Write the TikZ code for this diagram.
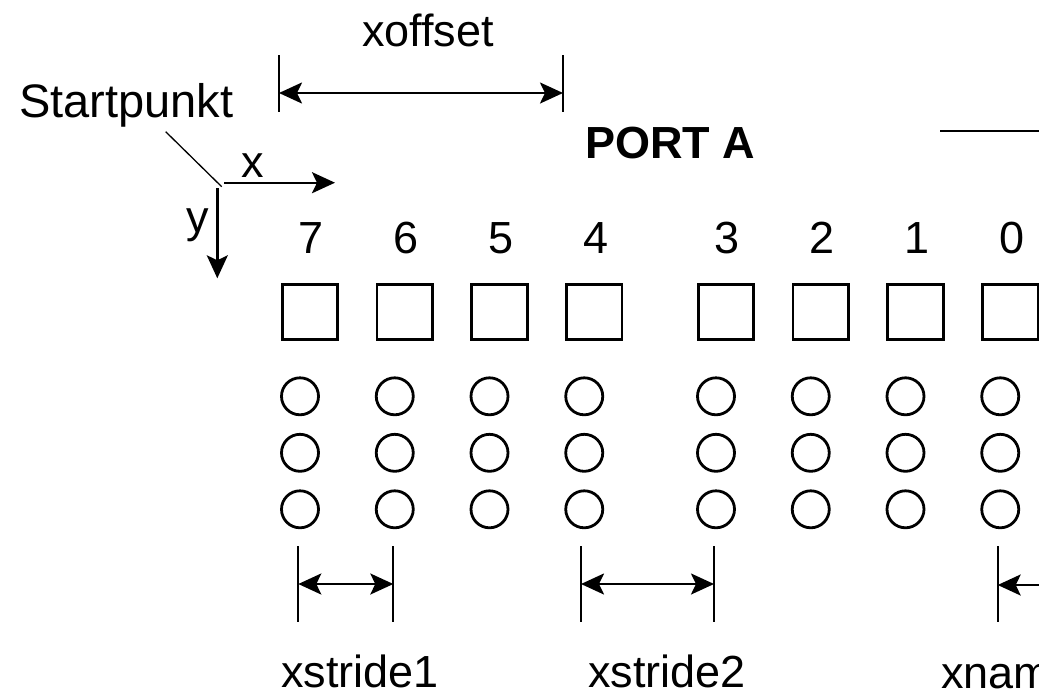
\documentclass[tikz,border=0pt]{standalone}
\usepackage{fontspec}
\setmainfont{Liberation Sans}
\usetikzlibrary{arrows.meta}
\begin{document}
\begin{tikzpicture}[x=1pt,y=-1pt,
  lbl/.style={inner sep=0pt, anchor=base, text depth=0pt, font=\fontsize{45}{54}\selectfont},
  sqbox/.style={draw, line width=2.6pt, minimum size=55.5pt, inner sep=0pt},
  pin/.style={draw, circle, line width=2.8pt, minimum size=37pt, inner sep=0pt},
  tickline/.style={line width=2.3pt},
  thinline/.style={line width=1.3pt},
  arr/.style={line width=2.4pt, -{Stealth[length=23pt,width=21pt,inset=5pt]}},
  darr/.style={line width=2.4pt, {Stealth[length=23pt,width=21pt,inset=5pt]}-{Stealth[length=23pt,width=21pt,inset=5pt]}}
]
\useasboundingbox (0,0) rectangle (1039,694);
\clip (0,0) rectangle (1039,694);

% squares, digits, pins
\foreach \i/\x in {7/310,6/404.75,5/499.5,4/594.25,3/726,2/820.75,1/915.5,0/1010.25}{
  \node[sqbox] (sq\i) at (\x,312) {};
  \node[lbl] (n\i) at (\x+1.5,253) {\i};
  \node[pin] (c\i a) at (\x-10,396.3) {};
  \node[pin] (c\i b) at (\x-10,452.8) {};
  \node[pin] (c\i c) at (\x-10,509.3) {};
}

% title
\node[lbl, font=\fontsize{45}{54}\selectfont\bfseries] (port) at (670,158.3) {PORT A};
\coordinate (trL) at (940,130.7);
\coordinate (trR) at (1045,130.7);
\draw[tickline] (trL) -- (trR);

% xoffset
\node[lbl] (xoff) at (428,46) {xoffset};
\coordinate (xoLt) at (279,55);  \coordinate (xoLb) at (279,112);
\coordinate (xoRt) at (563,55);  \coordinate (xoRb) at (563,112);
\coordinate (xoL) at (279,93);   \coordinate (xoR) at (563,93);
\draw[tickline] (xoLt) -- (xoLb);
\draw[tickline] (xoRt) -- (xoRb);
\draw[darr] (xoL) -- (xoR);

% start point and axes
\node[lbl, anchor=base west, font=\fontsize{47}{56}\selectfont] (start) at (19,117.3) {Startpunkt};
\coordinate (leadA) at (165.7,131.7);
\coordinate (leadB) at (221.7,186.7);
\draw[thinline] (leadA) -- (leadB);
\coordinate (xa0) at (224,182.7);  \coordinate (xa1) at (335,182.7);
\coordinate (ya0) at (217.3,188);  \coordinate (ya1) at (217.3,278.3);
\draw[arr] (xa0) -- (xa1);
\draw[arr] (ya0) -- (ya1);
\node[lbl] (xl) at (252.5,177) {x};
\node[lbl] (yl) at (197.5,232) {y};

% xstride1
\coordinate (s1Lt) at (298.3,546); \coordinate (s1Lb) at (298.3,622);
\coordinate (s1Rt) at (393.3,546); \coordinate (s1Rb) at (393.3,622);
\coordinate (s1L) at (298.3,584);  \coordinate (s1R) at (393.3,584);
\draw[tickline] (s1Lt) -- (s1Lb);
\draw[tickline] (s1Rt) -- (s1Rb);
\draw[darr] (s1L) -- (s1R);
\node[lbl] (s1) at (360,687) {xstride1};

% xstride2
\coordinate (s2Lt) at (581,546); \coordinate (s2Lb) at (581,622);
\coordinate (s2Rt) at (714,546); \coordinate (s2Rb) at (714,622);
\coordinate (s2L) at (581,584);  \coordinate (s2R) at (714,584);
\draw[tickline] (s2Lt) -- (s2Lb);
\draw[tickline] (s2Rt) -- (s2Rb);
\draw[darr] (s2L) -- (s2R);
\node[lbl] (s2) at (667,687) {xstride2};

% xnam...
\coordinate (s3Lt) at (997.7,546); \coordinate (s3Lb) at (997.7,622);
\coordinate (s3L) at (997.7,585);  \coordinate (s3R) at (1060,585);
\draw[tickline] (s3Lt) -- (s3Lb);
\draw[arr] (s3R) -- (s3L);
\node[lbl, anchor=base west] (s3) at (941,688) {xnam};
\end{tikzpicture}
\end{document}
